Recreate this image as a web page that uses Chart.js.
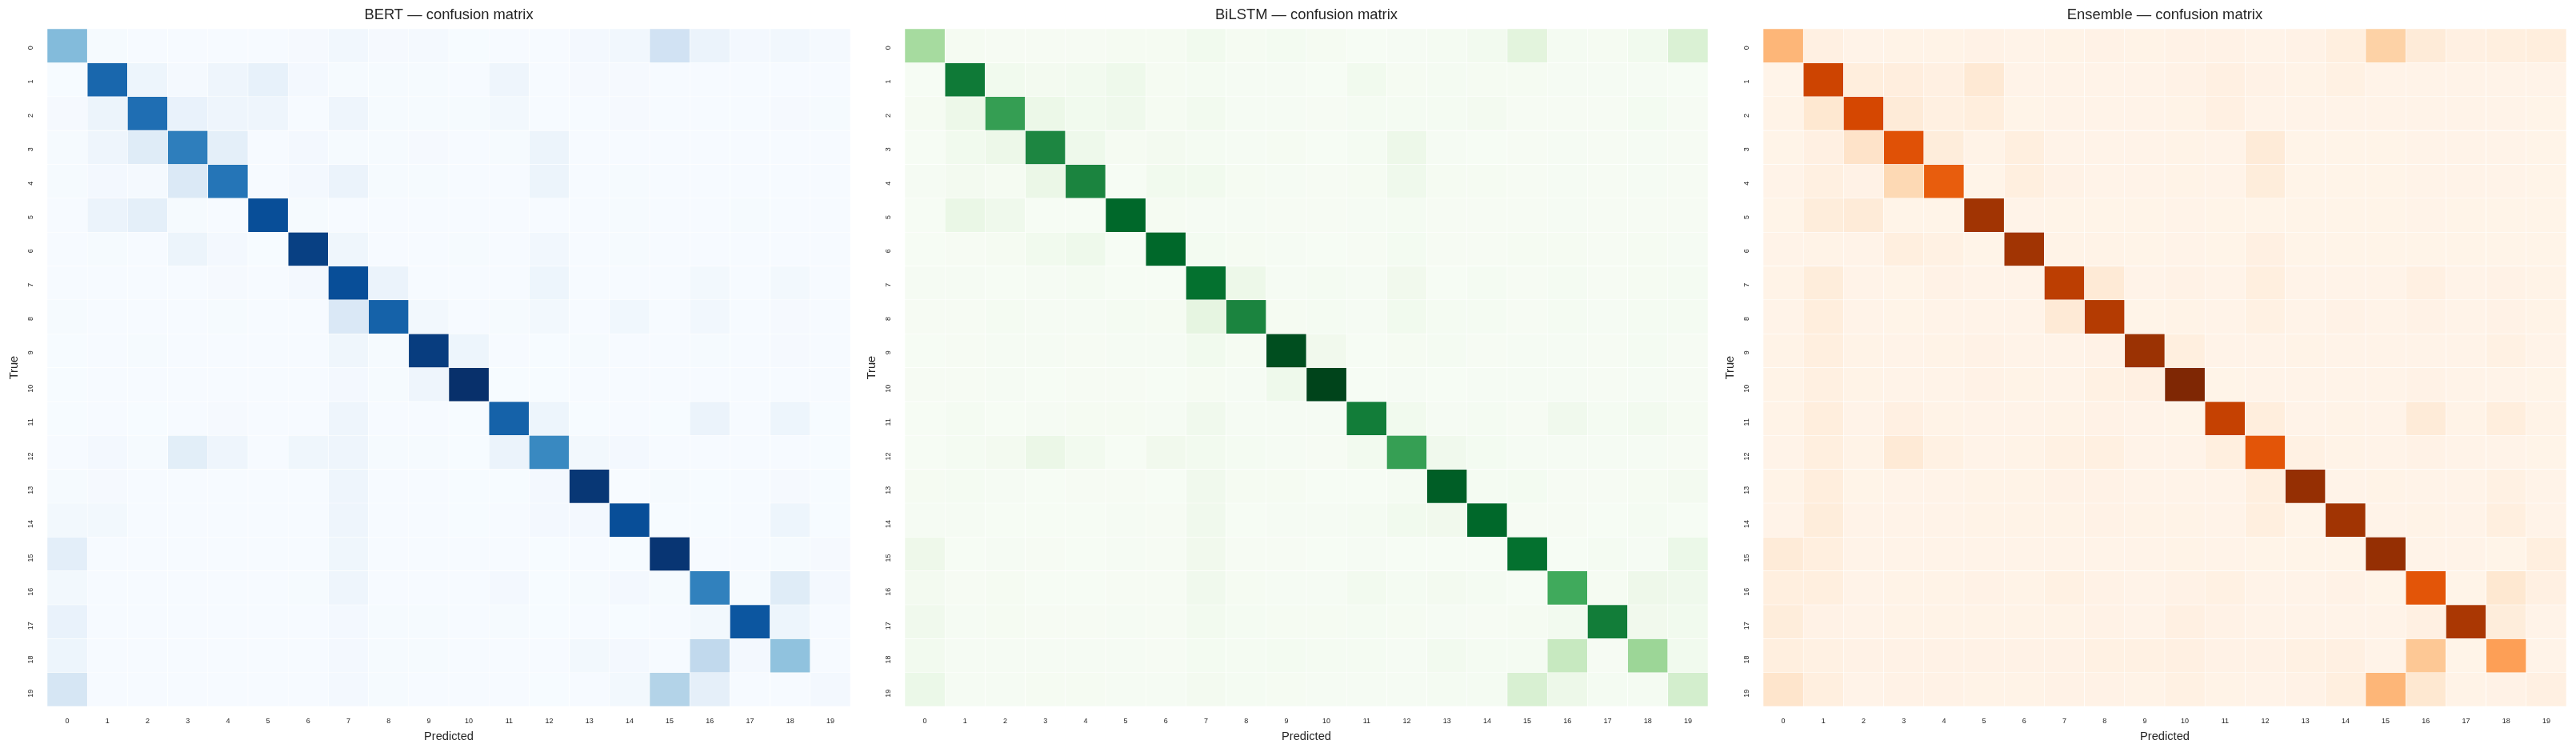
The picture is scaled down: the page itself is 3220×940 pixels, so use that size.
<!DOCTYPE html>
<html>
<head>
<meta charset="utf-8">
<title>Confusion matrices</title>
<script src="https://cdn.jsdelivr.net/npm/chart.js@4"></script>
<style>
  html, body { margin: 0; padding: 0; background: #fff; }
  #wrap { position: relative; width: 3220px; height: 940px; overflow: hidden; }
  .panel { position: absolute; top: 0; width: 1072px; height: 940px; }
</style>
</head>
<body>
<div id="wrap">
  <div class="panel" style="left:0"><canvas id="bert"></canvas></div>
  <div class="panel" style="left:1072px"><canvas id="bilstm"></canvas></div>
  <div class="panel" style="left:2145px"><canvas id="ensemble"></canvas></div>
</div>
<script>
const classLabels = ['0','1','2','3','4','5','6','7','8','9','10','11','12','13','14','15','16','17','18','19'];

const bertValues = [
  [.44,.008,.004,.004,.004,.004,.012,.03,.012,.015,.003,.004,.005,.02,.03,.195,.06,.02,.03,.015],
  [.003,.79,.05,.015,.045,.08,.02,.008,.008,.008,.005,.045,.006,.012,.012,.005,.005,.005,.005,.005],
  [.012,.055,.76,.07,.045,.045,.005,.045,.008,.008,.01,.025,.005,.005,.012,.005,.005,.006,.012,.008],
  [.008,.045,.12,.70,.095,.005,.02,.01,.01,.012,.005,.01,.055,.005,.005,.005,.005,.005,.005,.005],
  [.008,.02,.015,.14,.735,.005,.02,.06,.008,.008,.005,.005,.055,.005,.008,.005,.005,.005,.005,.005],
  [.005,.06,.095,.01,.005,.885,.01,.005,.005,.005,.005,.005,.005,.005,.01,.005,.005,.008,.005,.005],
  [.005,.008,.005,.055,.02,.003,.94,.04,.005,.005,.008,.005,.03,.005,.008,.005,.005,.005,.005,.005],
  [.005,.005,.005,.005,.012,.005,.02,.885,.06,.005,.004,.004,.05,.005,.006,.005,.025,.005,.025,.005],
  [.008,.005,.005,.005,.008,.005,.005,.145,.81,.025,.005,.008,.025,.005,.035,.005,.03,.005,.012,.005],
  [.003,.006,.008,.005,.005,.005,.005,.04,.008,.95,.05,.005,.003,.01,.004,.006,.008,.005,.012,.005],
  [.003,.005,.004,.004,.004,.005,.004,.02,.008,.045,1,.003,.003,.006,.004,.006,.004,.004,.004,.005],
  [.003,.005,.003,.004,.012,.005,.006,.045,.006,.006,.003,.81,.05,.003,.005,.003,.06,.005,.05,.003],
  [.004,.02,.01,.105,.045,.006,.04,.045,.01,.008,.003,.06,.66,.025,.02,.004,.005,.004,.004,.003],
  [.01,.012,.004,.005,.004,.005,.004,.045,.006,.006,.003,.003,.02,.975,.002,.008,.003,.005,.012,.003],
  [.025,.025,.004,.004,.004,.005,.006,.045,.005,.005,.003,.005,.02,.02,.885,.003,.003,.004,.05,.003],
  [.10,.006,.005,.004,.004,.005,.005,.04,.005,.005,.004,.004,.003,.004,.003,.98,.004,.004,.01,.012],
  [.025,.004,.004,.004,.004,.005,.008,.045,.006,.005,.004,.02,.003,.008,.02,.01,.69,.008,.12,.02],
  [.07,.004,.005,.004,.004,.005,.005,.02,.008,.008,.005,.01,.003,.005,.003,.005,.025,.855,.05,.004],
  [.05,.004,.005,.004,.004,.005,.005,.02,.008,.008,.005,.006,.004,.025,.02,.004,.265,.02,.41,.006],
  [.165,.004,.004,.004,.004,.005,.004,.02,.008,.005,.004,.005,.003,.005,.025,.31,.09,.004,.004,.02]
];

const bilstmValues = [
  [.36,.015,.01,.01,.01,.015,.015,.04,.015,.025,.015,.008,.012,.02,.035,.135,.02,.015,.04,.17],
  [.005,.82,.04,.03,.035,.06,.015,.02,.012,.012,.008,.04,.015,.018,.015,.015,.012,.012,.012,.008],
  [.015,.07,.675,.075,.04,.055,.015,.035,.012,.012,.01,.02,.02,.02,.03,.01,.01,.01,.025,.01],
  [.008,.04,.07,.77,.06,.015,.03,.02,.012,.015,.008,.018,.07,.012,.008,.01,.012,.01,.012,.01],
  [.012,.03,.015,.085,.78,.005,.04,.04,.015,.012,.01,.015,.055,.015,.015,.01,.012,.01,.012,.01],
  [.008,.09,.055,.005,.008,.89,.015,.012,.012,.01,.01,.012,.02,.01,.01,.01,.012,.01,.01,.01],
  [.008,.01,.015,.04,.06,.006,.89,.025,.015,.012,.008,.01,.025,.01,.01,.015,.015,.01,.015,.012],
  [.012,.012,.008,.012,.02,.008,.008,.86,.07,.012,.018,.012,.045,.006,.018,.01,.02,.01,.015,.02],
  [.01,.01,.02,.012,.012,.018,.015,.12,.78,.015,.018,.012,.04,.018,.02,.01,.02,.012,.02,.018],
  [.008,.01,.012,.012,.01,.012,.012,.04,.015,.97,.045,.008,.015,.02,.01,.012,.012,.01,.02,.01],
  [.01,.01,.012,.008,.01,.01,.008,.015,.012,.06,1,.006,.012,.008,.012,.012,.012,.01,.012,.01],
  [.006,.02,.008,.012,.015,.015,.012,.05,.012,.012,.012,.81,.04,.012,.02,.01,.05,.018,.035,.015],
  [.006,.018,.03,.085,.035,.008,.045,.035,.018,.012,.01,.035,.67,.05,.025,.012,.012,.012,.012,.01],
  [.015,.02,.012,.008,.01,.01,.008,.05,.015,.015,.008,.008,.018,.92,.018,.025,.01,.01,.015,.03],
  [.012,.012,.008,.008,.008,.012,.01,.05,.008,.012,.012,.02,.04,.045,.89,.01,.01,.008,.02,.008],
  [.065,.008,.012,.01,.008,.012,.01,.045,.01,.01,.008,.012,.006,.006,.006,.86,.008,.018,.012,.08],
  [.03,.01,.015,.008,.008,.01,.01,.05,.015,.012,.012,.035,.02,.03,.02,.008,.63,.015,.065,.055],
  [.05,.012,.015,.01,.01,.012,.01,.035,.02,.015,.015,.018,.015,.012,.01,.015,.035,.81,.045,.04],
  [.035,.012,.012,.012,.012,.012,.01,.025,.02,.025,.018,.02,.012,.035,.018,.018,.25,.01,.39,.04],
  [.08,.012,.012,.015,.015,.012,.012,.03,.02,.015,.012,.012,.012,.02,.02,.18,.07,.02,.02,.2]
];

const ensembleValues = [
  [.345,.04,.014,.018,.018,.022,.014,.018,.022,.018,.022,.022,.014,.022,.05,.24,.08,.04,.05,.06],
  [.01,.78,.06,.055,.04,.1,.014,.014,.014,.014,.022,.04,.022,.018,.035,.014,.014,.014,.014,.014],
  [.018,.11,.76,.08,.045,.06,.012,.014,.014,.014,.018,.04,.014,.014,.014,.014,.014,.014,.014,.012],
  [.012,.04,.14,.715,.07,.018,.05,.014,.014,.014,.018,.014,.08,.012,.012,.012,.014,.014,.014,.012],
  [.014,.045,.022,.2,.67,.012,.05,.022,.014,.014,.018,.014,.07,.012,.012,.012,.014,.014,.014,.012],
  [.012,.07,.08,.012,.012,.89,.014,.012,.012,.012,.014,.012,.012,.012,.012,.012,.014,.012,.012,.012],
  [.014,.018,.014,.05,.035,.012,.89,.018,.018,.012,.014,.012,.04,.012,.012,.012,.012,.012,.012,.012],
  [.018,.07,.014,.012,.022,.014,.014,.82,.09,.014,.022,.014,.05,.014,.014,.014,.04,.014,.022,.018],
  [.014,.06,.014,.012,.014,.014,.014,.09,.84,.012,.018,.014,.035,.014,.022,.014,.022,.014,.022,.018],
  [.018,.05,.018,.014,.018,.022,.014,.014,.022,.91,.05,.014,.014,.018,.014,.014,.014,.014,.035,.014],
  [.018,.045,.018,.014,.014,.022,.018,.014,.035,.04,1,.012,.014,.014,.014,.014,.022,.014,.014,.012],
  [.018,.06,.014,.04,.018,.014,.014,.018,.022,.014,.012,.80,.06,.014,.018,.014,.08,.018,.06,.018],
  [.014,.05,.018,.09,.035,.014,.018,.035,.045,.014,.014,.05,.70,.035,.018,.014,.022,.014,.014,.012],
  [.018,.06,.012,.014,.014,.018,.018,.022,.022,.014,.014,.014,.05,.93,.014,.018,.014,.014,.035,.014],
  [.014,.07,.014,.014,.014,.018,.018,.018,.022,.018,.018,.014,.05,.012,.89,.014,.018,.014,.05,.014],
  [.08,.05,.014,.014,.014,.014,.014,.014,.014,.014,.018,.014,.012,.012,.012,.93,.014,.014,.012,.05],
  [.05,.05,.014,.018,.018,.022,.018,.035,.022,.014,.022,.035,.014,.014,.022,.012,.70,.012,.11,.04],
  [.07,.022,.014,.018,.018,.018,.018,.018,.022,.014,.04,.022,.014,.014,.014,.014,.04,.865,.07,.014],
  [.05,.035,.022,.022,.022,.022,.022,.022,.035,.035,.04,.022,.022,.035,.04,.014,.28,.012,.43,.014],
  [.13,.05,.014,.022,.022,.018,.018,.022,.022,.018,.035,.018,.014,.022,.05,.345,.11,.018,.022,.04]
];

const blues = ['#f7fbff','#deebf7','#c6dbef','#9ecae1','#6baed6','#4292c6','#2171b5','#08519c','#08306b'];
const greens = ['#f7fcf5','#e5f5e0','#c7e9c0','#a1d99b','#74c476','#41ab5d','#238b45','#006d2c','#00441b'];
const oranges = ['#fff5eb','#fee6ce','#fdd0a2','#fdae6b','#fd8d3c','#f16913','#d94801','#a63603','#7f2704'];

const FONT = '"Liberation Sans", Arial, sans-serif';
const INK = '#262626';

// value 0..1 -> colour on the ramp
function rampColor(stops, v) {
  const t = Math.min(Math.max(v, 0), 1) * (stops.length - 1);
  const i = Math.min(Math.floor(t), stops.length - 2);
  const f = t - i;
  const rgb = h => [1, 3, 5].map(p => parseInt(h.substr(p, 2), 16));
  const a = rgb(stops[i]), b = rgb(stops[i + 1]);
  return `rgb(${a.map((c, k) => Math.round(c + (b[k] - c) * f)).join(',')})`;
}

function drawMatrix(id, title, values, stops) {
  // one floating-bar dataset per true class
  const datasets = values.map((row, r) => ({
    data: row.map(() => [r - 0.5, r + 0.5]),
    backgroundColor: row.map(v => rampColor(stops, v)),
    borderColor: '#ffffff',
    borderWidth: 0.6,
    borderSkipped: false,
    grouped: false,
    barPercentage: 1,
    categoryPercentage: 1
  }));

  new Chart(document.getElementById(id), {
    type: 'bar',
    data: { labels: classLabels, datasets: datasets },
    options: {
      responsive: true,
      maintainAspectRatio: false,
      animation: false,
      layout: { padding: { right: 9 } },
      plugins: {
        legend: { display: false },
        tooltip: { enabled: false },
        title: {
          display: true,
          text: title,
          fullSize: false,
          color: INK,
          font: { family: FONT, size: 18.4, weight: 'normal', lineHeight: 1.2 },
          padding: { top: 8, bottom: 6 }
        }
      },
      scales: {
        x: {
          grid: { display: false, drawTicks: false },
          border: { display: false },
          ticks: { color: INK, font: { family: FONT, size: 9 }, padding: 13, maxRotation: 0, autoSkip: false },
          title: { display: true, text: 'Predicted', color: INK, font: { family: FONT, size: 14.7 }, padding: { top: 0, bottom: 10 } },
          afterFit: s => { s.height = 57; }
        },
        y: {
          type: 'linear',
          reverse: true,
          min: -0.5,
          max: 19.5,
          grid: { display: false, drawTicks: false },
          border: { display: false },
          afterBuildTicks: s => { s.ticks = classLabels.map(l => ({ value: +l })); },
          ticks: { color: INK, font: { family: FONT, size: 9 }, padding: 20, minRotation: 90, maxRotation: 90, autoSkip: false, callback: v => String(v) },
          title: { display: true, text: 'True', color: INK, font: { family: FONT, size: 14.7 }, padding: { top: 9, bottom: 0 } },
          afterFit: s => { s.width = 59; }
        }
      }
    }
  });
}

drawMatrix('bert', 'BERT — confusion matrix', bertValues, blues);
drawMatrix('bilstm', 'BiLSTM — confusion matrix', bilstmValues, greens);
drawMatrix('ensemble', 'Ensemble — confusion matrix', ensembleValues, oranges);
</script>
</body>
</html>
